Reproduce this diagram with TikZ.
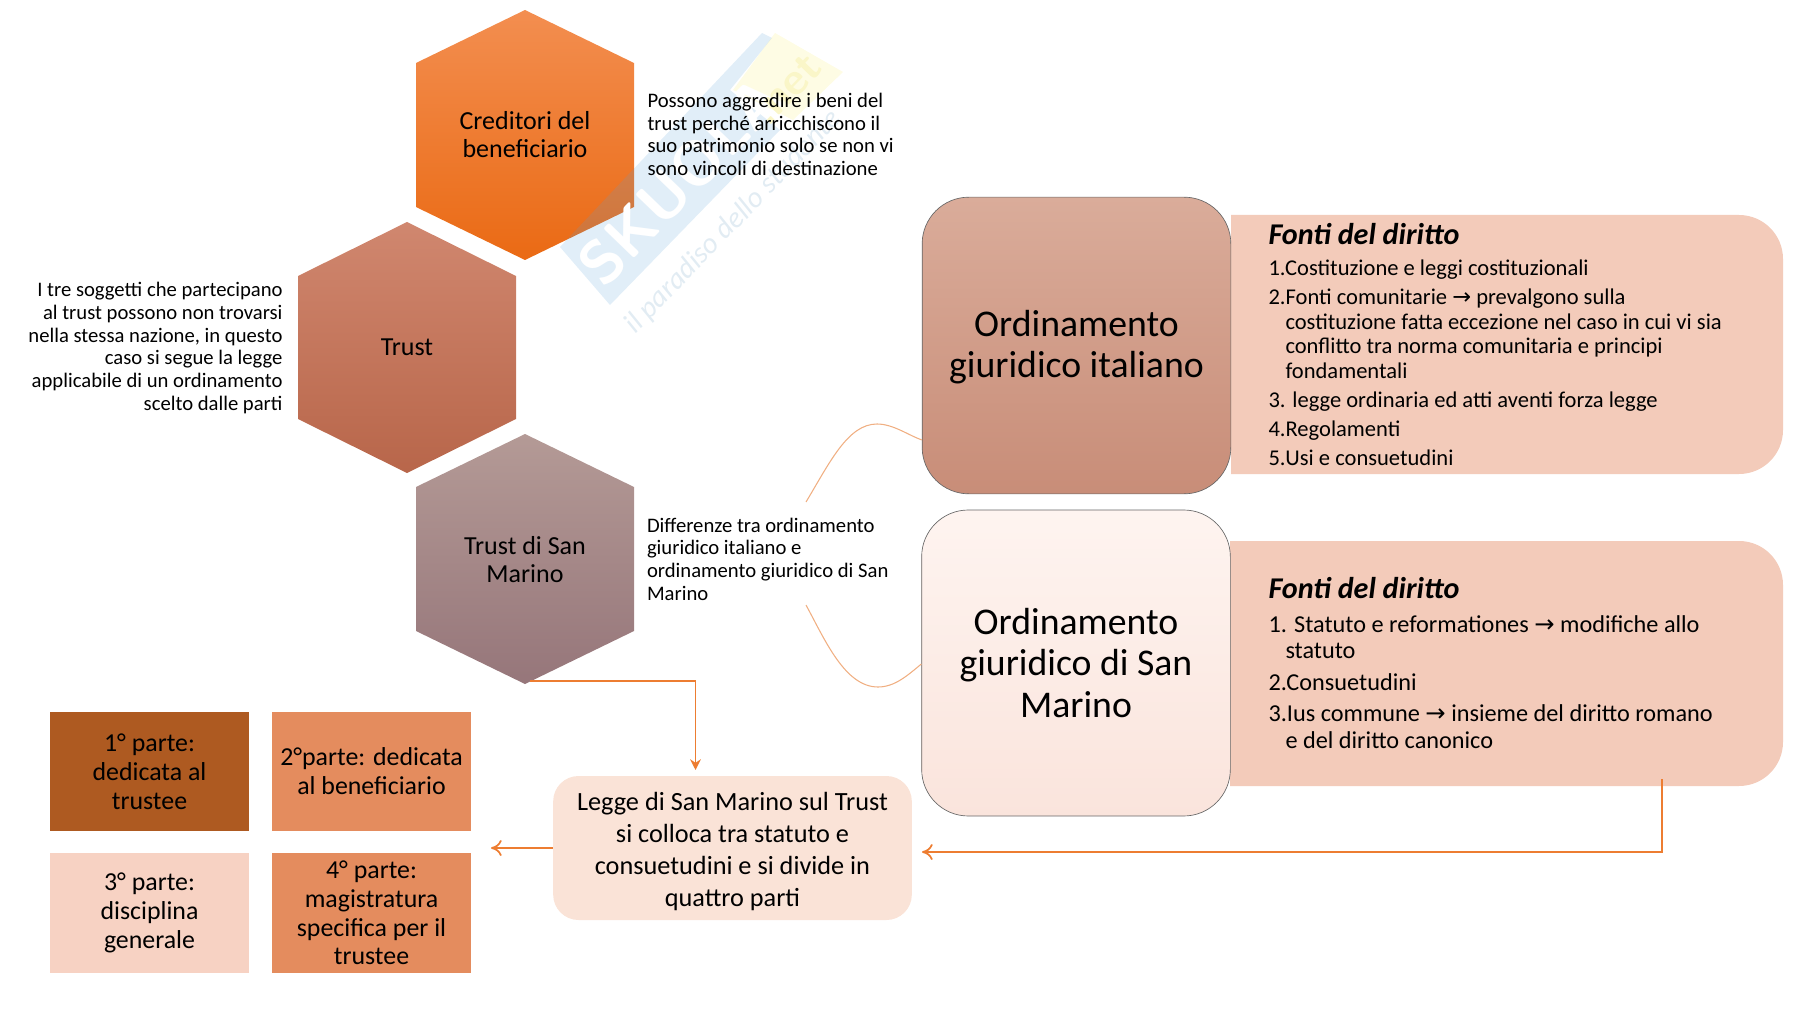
\documentclass[tikz,border=0pt]{standalone}
\usepackage{fontspec}
\setmainfont{Carlito}
\newfontfamily\arrowfont{DejaVu Sans}
\usetikzlibrary{arrows.meta}

\definecolor{lineorange}{RGB}{237,125,49}
\definecolor{curveorange}{RGB}{240,175,130}
\definecolor{fontibox}{RGB}{243,203,186}

\tikzset{every picture/.style={line width=0.75pt}}
\tikzset{
  ordbox/.style={draw=black!60,line width=0.5pt,rounded corners=35pt,minimum width=231.5pt,minimum height=222.5pt,inner sep=0pt},
  partbox/.style={minimum width=149.5pt,minimum height=89.5pt,inner sep=0pt,align=center,font=\fontsize{19.4}{21.6}\selectfont},
  hextext/.style={align=center,font=\fontsize{19.5}{21.6}\selectfont,inner sep=0pt},
  sidetext/.style={inner sep=0pt,font=\fontsize{15.5}{17}\selectfont},
  listtext/.style={anchor=base west,inner sep=0pt,font=\fontsize{16.9}{18}\selectfont},
  listtextb/.style={anchor=base west,inner sep=0pt,font=\fontsize{18.2}{20}\selectfont},
  fontititle/.style={anchor=base west,inner sep=0pt,font=\fontsize{22.6}{24}\selectfont\bfseries\itshape},
  ordtext/.style={align=center,inner sep=0pt,font=\fontsize{28.3}{31}\selectfont},
  elbow/.style={draw=lineorange,line width=1.3pt},
  curve/.style={draw=curveorange,line width=0.8pt}
}

\begin{document}
\begin{tikzpicture}[x=0.75pt,y=0.75pt,yscale=-1,xscale=1]
\useasboundingbox (0,0) rectangle (1800,1013);

%Hexagons
\shade [top color={rgb,255:red,243;green,142;blue,80},bottom color={rgb,255:red,234;green,106;blue,20}] (525,10) -- (634,63) -- (634,207) -- (525,260) -- (416,207) -- (416,63) -- cycle ;
\shade [top color={rgb,255:red,208;green,135;blue,111},bottom color={rgb,255:red,184;green,102;blue,74}] (407,222) -- (516,276) -- (516,419) -- (407,473) -- (298,419) -- (298,276) -- cycle ;
\shade [top color={rgb,255:red,180;green,154;blue,150},bottom color={rgb,255:red,150;green,118;blue,122}] (525,434) -- (634,487) -- (634,631) -- (525,684) -- (416,631) -- (416,487) -- cycle ;

%Watermark
\fill [color={rgb,255:red,90;green,160;blue,215},fill opacity=0.18] (560,247) -- (762,33) -- (772,38) -- (730,90) -- (780,130) -- (610,305) -- cycle ;
\fill [color={rgb,255:red,250;green,240;blue,130},fill opacity=0.22] (775,33) -- (843,72) -- (793,120) -- (733,90) -- cycle ;
\node (wmname) [anchor=base west,rotate=46,inner sep=0pt,text=white,font=\fontsize{46}{46}\selectfont\bfseries\sffamily] at (604,290) {SKUOLA};
\node (wmnet) [anchor=base west,rotate=46,inner sep=0pt,text={rgb,255:red,250;green,246;blue,200},font=\fontsize{34}{34}\selectfont\bfseries\sffamily] at (768,128) {.net};
\node (wmslogan) [anchor=base west,rotate=46,inner sep=0pt,text={rgb,255:red,226;green,236;blue,243},font=\fontsize{22}{22}\selectfont\itshape] at (635,335) {il paradiso dello studente};

%Fonti boxes
\fill [fontibox] (1231,215) [rounded corners=33pt] -- (1783,215) -- (1783,474) [sharp corners] -- (1231,474) -- cycle ;
\fill [fontibox] (1230,541) [rounded corners=33pt] -- (1783,541) -- (1783,786) [sharp corners] -- (1230,786) -- cycle ;

%Rounded boxes
\node (ordIT) [ordbox,top color={rgb,255:red,218;green,172;blue,154},bottom color={rgb,255:red,200;green,141;blue,120}] at (1076.5,345.5) {};
\node (ordSM) [ordbox,minimum height=229.5pt,top color={rgb,255:red,254;green,244;blue,240},bottom color={rgb,255:red,250;green,228;blue,220},ordtext] at (1076,663) {Ordinamento\\giuridico di San\\Marino};
\node (legge) [fill={rgb,255:red,250;green,227;blue,215},rounded corners=19pt,minimum width=269pt,minimum height=108pt,inner sep=0pt] at (732.5,848) {};

%Parts
\node (parte1) [partbox,fill={rgb,255:red,174;green,90;blue,33}] at (149.5,771.5) {1° parte:\\dedicata al\\trustee};
\node (parte2) [partbox,fill={rgb,255:red,228;green,140;blue,94}] at (371.5,771.5) {2°parte: dedicata\\al beneficiario};
\node (parte3) [partbox,fill={rgb,255:red,247;green,210;blue,195}] at (149.5,913) {3° parte:\\disciplina\\generale};
\node (parte4) [partbox,fill={rgb,255:red,228;green,140;blue,94}] at (371.5,913) {4° parte:\\magistratura\\specifica per il\\trustee};

% Text Node
\node (ordITtext) [ordtext] at (1076.5,347) {Ordinamento\\giuridico italiano};
\node (leggetext) [align=center,inner sep=0pt,font=\fontsize{19.7}{23.8}\selectfont] at (732.5,851.5) {Legge di San Marino sul Trust\\si colloca tra statuto e\\consuetudini e si divide in\\quattro parti};
\node (credtext) [hextext] at (525,134.5) {Creditori del\\beneficiario};
\node (trusttext) [hextext] at (407,347) {Trust};
\node (smtext) [hextext] at (525,559.5) {Trust di San\\Marino};
\node (sidecred) [sidetext,anchor=west,align=left] at (647,134.5) {Possono aggredire i beni del\\trust perché arricchiscono il\\suo patrimonio solo se non vi\\sono vincoli di destinazione};
\node (sidetrust) [sidetext,anchor=east,align=right] at (283,348) {I tre soggetti che partecipano\\al trust possono non trovarsi\\nella stessa nazione, in questo\\caso si segue la legge\\applicabile di un ordinamento\\scelto dalle parti};
\node (sidesm) [sidetext,anchor=west,align=left] at (646.5,559) {Differenze tra ordinamento\\giuridico italiano e\\ordinamento giuridico di San\\Marino};

%Fonti text
\node (titleIT) [fontititle] at (1268,244) {Fonti del diritto};
\node (itemIT1) [listtext] at (1268,275) {1.Costituzione e leggi costituzionali};
\node (itemIT2) [listtext] at (1268,304) {2.Fonti comunitarie {\arrowfont→} prevalgono sulla};
\node (itemIT2b) [listtext] at (1285,329.5) {costituzione fatta eccezione nel caso in cui vi sia};
\node (itemIT2c) [listtext] at (1285,353) {conflitto tra norma comunitaria e principi};
\node (itemIT2d) [listtext] at (1285,378) {fondamentali};
\node (itemIT3) [listtext] at (1268,407) {3. legge ordinaria ed atti aventi forza legge};
\node (itemIT4) [listtext] at (1268,436) {4.Regolamenti};
\node (itemIT5) [listtext] at (1268,465) {5.Usi e consuetudini};
\node (titleSM) [fontititle] at (1268,598) {Fonti del diritto};
\node (itemSM1) [listtextb] at (1268,632) {1. Statuto e reformationes {\arrowfont→} modifiche allo};
\node (itemSM1b) [listtextb] at (1285,658) {statuto};
\node (itemSM2) [listtextb] at (1268,690) {2.Consuetudini};
\node (itemSM3) [listtextb] at (1268,721) {3.Ius commune {\arrowfont→} insieme del diritto romano};
\node (itemSM3b) [listtextb] at (1285,748) {e del diritto canonico};

%Connectors
\coordinate (hexSMtip) at (530,681);
\coordinate (leggetop) at (695.5,770);
\coordinate (fontiSMfoot) at (1662,779);
\coordinate (fromfonti) at (922,852);
\coordinate (toparts) at (491,848);
\coordinate (bracketup) at (806,502);
\coordinate (bracketdown) at (806,605);
\draw [elbow,-{Stealth[length=8pt,width=8pt]}] (hexSMtip) -| (leggetop) ;
\draw [elbow,-{To[length=8pt,width=12pt]}] (fontiSMfoot) |- (fromfonti) ;
\draw [elbow,-{To[length=8pt,width=12pt]}] (legge.west) -- (toparts) ;
\draw [curve] (bracketup) .. controls (830,462) and (848,424) .. (877,424) .. controls (893,424) and (908,435) .. (ordIT.west |- 0,440) ;
\draw [curve] (bracketdown) .. controls (825,640) and (845,687) .. (878,687) .. controls (895,687) and (908,675) .. (ordSM.west |- 0,664) ;

\end{tikzpicture}
\end{document}
